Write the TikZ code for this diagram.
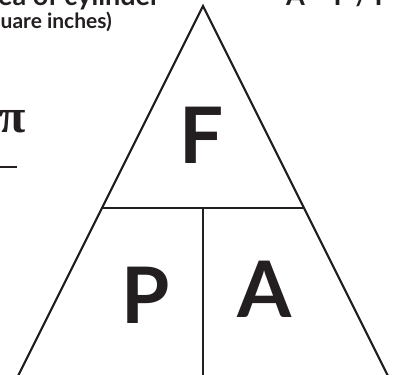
\documentclass[tikz,border=0pt]{standalone}
\usepackage{fontspec}
\newfontfamily\letra{Lato}
\newfontfamily\serifa{Liberation Serif}
\definecolor{tinta}{HTML}{231F20}
\tikzset{
  lado/.style={tinta, line width=2.2pt, line join=miter},
  letrota/.style={tinta, font=\letra\bfseries\fontsize{78}{80}\selectfont, inner sep=0pt},
  rotulo/.style={tinta, font=\letra\bfseries\fontsize{21}{23}\selectfont, inner sep=0pt},
  titular/.style={tinta, font=\letra\bfseries\fontsize{27}{30}\selectfont, inner sep=0pt}
}
\begin{document}
\begin{tikzpicture}[x=1pt, y=-1pt]
            \useasboundingbox (0,0) rectangle (397,375);
            \clip (0,0) rectangle (397,375);

            % Vertices del triangulo
            \coordinate (cima) at (203,6);
            \coordinate (izq) at (13,386);
            \coordinate (der) at (393,386);
            \coordinate (corteI) at (102,208);
            \coordinate (corteD) at (304,208);
            \coordinate (centro) at (203,208);
            \coordinate (base) at (203,386);

            % Triangulo y divisiones
            \draw[lado] (izq) -- (cima) -- (der);
            \draw[lado] (corteI) -- (corteD);
            \draw[lado] (centro) -- (base);

            % Letras de la formula
            \node[letrota] (fuerza) at (202,135) {F};
            \node[letrota] (presion) at (146,295) {P};
            \node[letrota] (area) at (265,289) {A};

            % Textos recortados arriba
            \node[titular, anchor=base west] (titulo) at (-2,5) {ea of cylinder};
            \node[rotulo, anchor=base west] (unidad) at (0.5,28) {uare inches)};
            \node[titular, anchor=base west] (despeje) at (286,5) {A = F / P};

            % Pi y raya a la izquierda
            \node[tinta, inner sep=0pt, anchor=base, font=\serifa\bfseries\fontsize{48}{52}\selectfont] (pi) at (13,132) {π};
            \coordinate (rayaI) at (-2,167);
            \coordinate (rayaD) at (17,167);
            \draw[tinta, line width=2pt] (rayaI) -- (rayaD);
        \end{tikzpicture}
\end{document}
